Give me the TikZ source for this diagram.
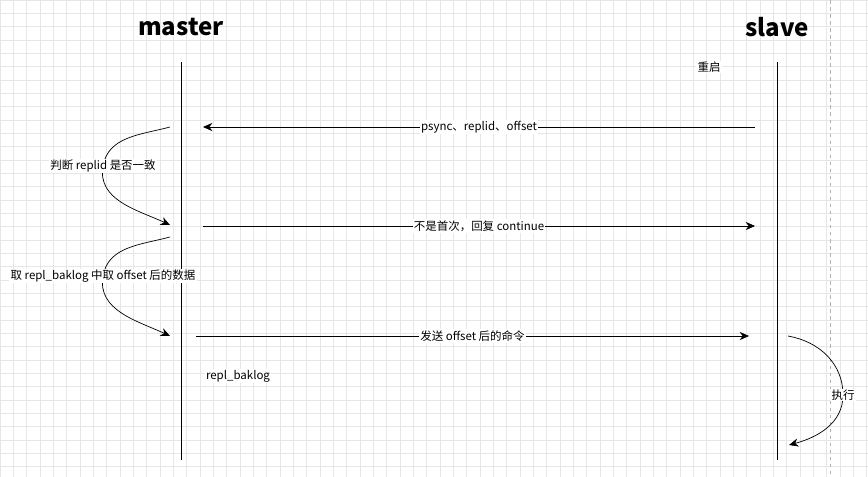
\documentclass[tikz,border=0pt]{standalone}
\usepackage{fontspec}
\setmainfont{Noto Sans CJK SC}
\usetikzlibrary{positioning,arrows.meta}
\definecolor{gridgray}{RGB}{230,230,230}

\tikzset{
  lifeline/.style={thick},
  msg/.style={semithick,-{Stealth[length=8pt,width=7pt]}},
  lbl/.style={fill=white,inner sep=1pt,font=\fontsize{9.8}{11}\selectfont},
  title/.style={font=\fontsize{20.5}{22}\selectfont\bfseries}
}

\begin{document}
\begin{tikzpicture}[x=0.03cm,y=-0.03cm]
\useasboundingbox (0,0) rectangle (868,477);
% Grid
\draw[gridgray,step=0.4cm] (0,0) grid (868,477);
\draw[gray!60,dashed] (830,0) -- (830,477);

% Titles
\node[title] (master) at (181,27) {master};
\node[title] (slave) at (777,27) {slave};

% Lifelines
\coordinate (mtop) at (181,62);
\coordinate (mbot) at (181,460);
\coordinate (stop) at (777,62);
\coordinate (sbot) at (777,460);
\draw[lifeline] (mtop) -- (mbot);
\draw[lifeline] (stop) -- (sbot);

\node[lbl] (restart) at (709,67) {重启};

% Messages
\coordinate (s1) at (755,127);
\coordinate (m1) at (203,127);
\draw[msg] (s1) -- node[lbl] {psync、replid、offset} (m1);

\coordinate (m2) at (203,226);
\coordinate (s2) at (755,226);
\draw[msg] (m2) -- node[lbl] {不是首次，回复 continue} (s2);

\coordinate (m3) at (196,336);
\coordinate (s3) at (749,336);
\draw[msg] (m3) -- node[lbl] {发送 offset 后的命令} (s3);

\node[lbl] (baklog) at (238,376) {repl\_baklog};

% Self calls
\coordinate (a1) at (170,127);
\coordinate (b1) at (170,225);
\draw[msg] (a1) to[out=195,in=80] (103,166) node[lbl] {判断 replid 是否一致}
  to[out=260,in=155] (b1);

\coordinate (a2) at (170,237);
\coordinate (b2) at (170,336);
\draw[msg] (a2) to[out=195,in=80] (103,276) node[lbl] {取 repl\_baklog 中取 offset 后的数据}
  to[out=260,in=155] (b2);

\coordinate (a3) at (788,336);
\coordinate (b3) at (789,445);
\draw[msg] (a3) to[out=-10,in=90] (843,395) node[lbl] {执行}
  to[out=270,in=15] (b3);
\end{tikzpicture}
\end{document}
